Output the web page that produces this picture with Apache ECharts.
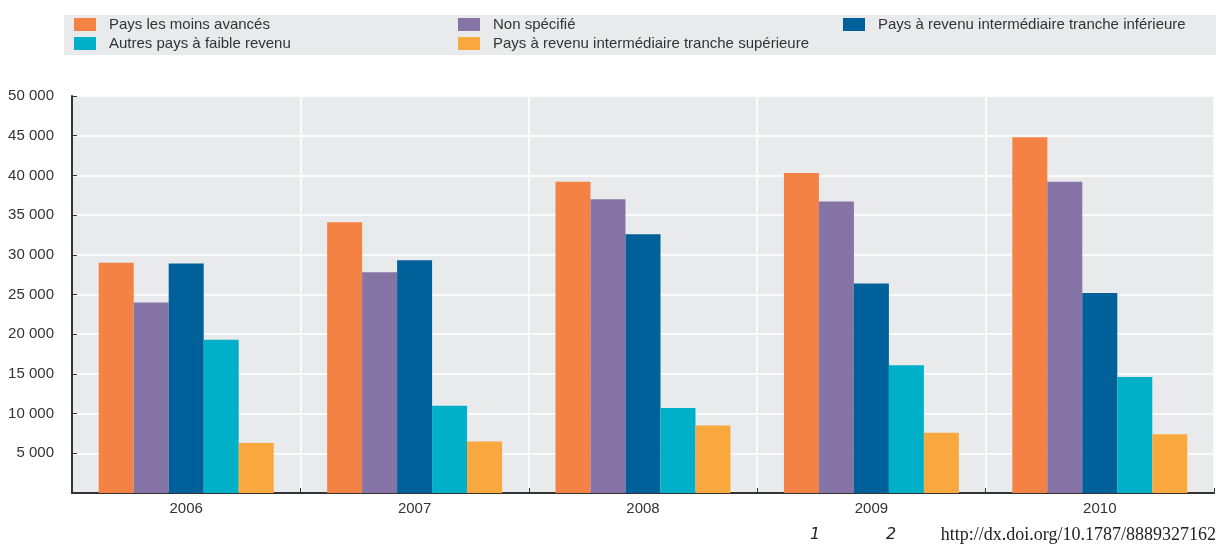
<!DOCTYPE html>
<html>
<head>
<meta charset="utf-8">
<script src="https://cdn.jsdelivr.net/npm/echarts@6/dist/echarts.min.js"></script>
<style>
html,body{margin:0;padding:0;background:#fff;}
#c{width:1216px;height:544px;}
</style>
</head>
<body>
<div id="c"></div>
<script>
const years = ['2006', '2007', '2008', '2009', '2010'];
const seriesNames = [
  'Pays les moins avancés',
  'Non spécifié',
  'Pays à revenu intermédiaire tranche inférieure',
  'Autres pays à faible revenu',
  'Pays à revenu intermédiaire tranche supérieure'
];
const paysMoinsAvances = [29000, 34100, 39200, 40300, 44800];
const nonSpecifie = [24000, 27800, 37000, 36700, 39200];
const trancheInferieure = [28900, 29300, 32600, 26400, 25200];
const autresFaibleRevenu = [19300, 11000, 10700, 16100, 14600];
const trancheSuperieure = [6300, 6500, 8500, 7600, 7400];
const yTicks = [0, 5000, 10000, 15000, 20000, 25000, 30000, 35000, 40000, 45000, 50000];
const footnotes = ['1', '2'];
const url = 'http://dx.doi.org/10.1787/8889327162';

const colors = ['#f48245', '#8674a7', '#00609a', '#00afc8', '#f9a73f'];
const values = [paysMoinsAvances, nonSpecifie, trancheInferieure, autresFaibleRevenu, trancheSuperieure];

const chart = echarts.init(document.getElementById('c'), null, {renderer: 'canvas'});
const font = 'Liberation Sans';
const legendPos = [
  {left: 74, top: 17},
  {left: 458, top: 17},
  {left: 843, top: 17},
  {left: 74, top: 36},
  {left: 458, top: 36}
];
const option = {
  animation: false,
  color: colors,
  textStyle: {fontFamily: font},
  graphic: [
    {type: 'rect', left: 64, top: 15, shape: {width: 1152, height: 40}, style: {fill: '#e9eaec'}, z: -10},
    {type: 'text', left: 810, top: 527, style: {text: footnotes[0], font: 'italic 16px "DejaVu Sans"', fill: '#222'}},
    {type: 'text', left: 886, top: 527, style: {text: footnotes[1], font: 'italic 16px "DejaVu Sans"', fill: '#222'}},
    {type: 'text', right: 0, top: 526, style: {text: url, font: '18px "Liberation Serif"', fill: '#222'}}
  ],
  legend: seriesNames.map((n, i) => ({
    data: [n],
    left: legendPos[i].left,
    top: legendPos[i].top,
    itemWidth: 22,
    itemHeight: 13,
    itemGap: 0,
    padding: 0,
    icon: 'rect',
    selectedMode: false,
    textStyle: {fontFamily: font, fontSize: 15, color: '#333', padding: [0, 0, 0, 8]}
  })),
  grid: {left: 72, right: 2, top: 96, bottom: 51, show: true, backgroundColor: '#e9eaec', borderWidth: 0},
  xAxis: {
    type: 'category',
    data: years,
    axisLine: {lineStyle: {color: '#333', width: 2}},
    axisTick: {show: true, inside: true, length: 5, lineStyle: {color: '#333', width: 1}},
    axisLabel: {fontFamily: font, fontSize: 15, color: '#333', margin: 8},
    splitLine: {show: true, lineStyle: {color: '#ffffff', width: 1.5}}
  },
  yAxis: {
    type: 'value',
    min: yTicks[0],
    max: yTicks[yTicks.length - 1],
    interval: 5000,
    axisLine: {show: true, lineStyle: {color: '#333', width: 2}},
    axisTick: {show: true, inside: true, length: 5, lineStyle: {color: '#333', width: 1}},
    axisLabel: {
      fontFamily: font, fontSize: 15, color: '#333', margin: 18,
      formatter: v => v === 0 ? '' : String(v).replace(/\B(?=(\d{3})+(?!\d))/g, ' ')
    },
    splitLine: {show: true, lineStyle: {color: '#ffffff', width: 1.5}}
  },
  series: seriesNames.map((n, i) => ({
    name: n,
    type: 'bar',
    data: values[i],
    barGap: '0%',
    barCategoryGap: '23.4%',
    itemStyle: {color: colors[i]}
  }))
};
chart.setOption(option);
</script>
</body>
</html>
